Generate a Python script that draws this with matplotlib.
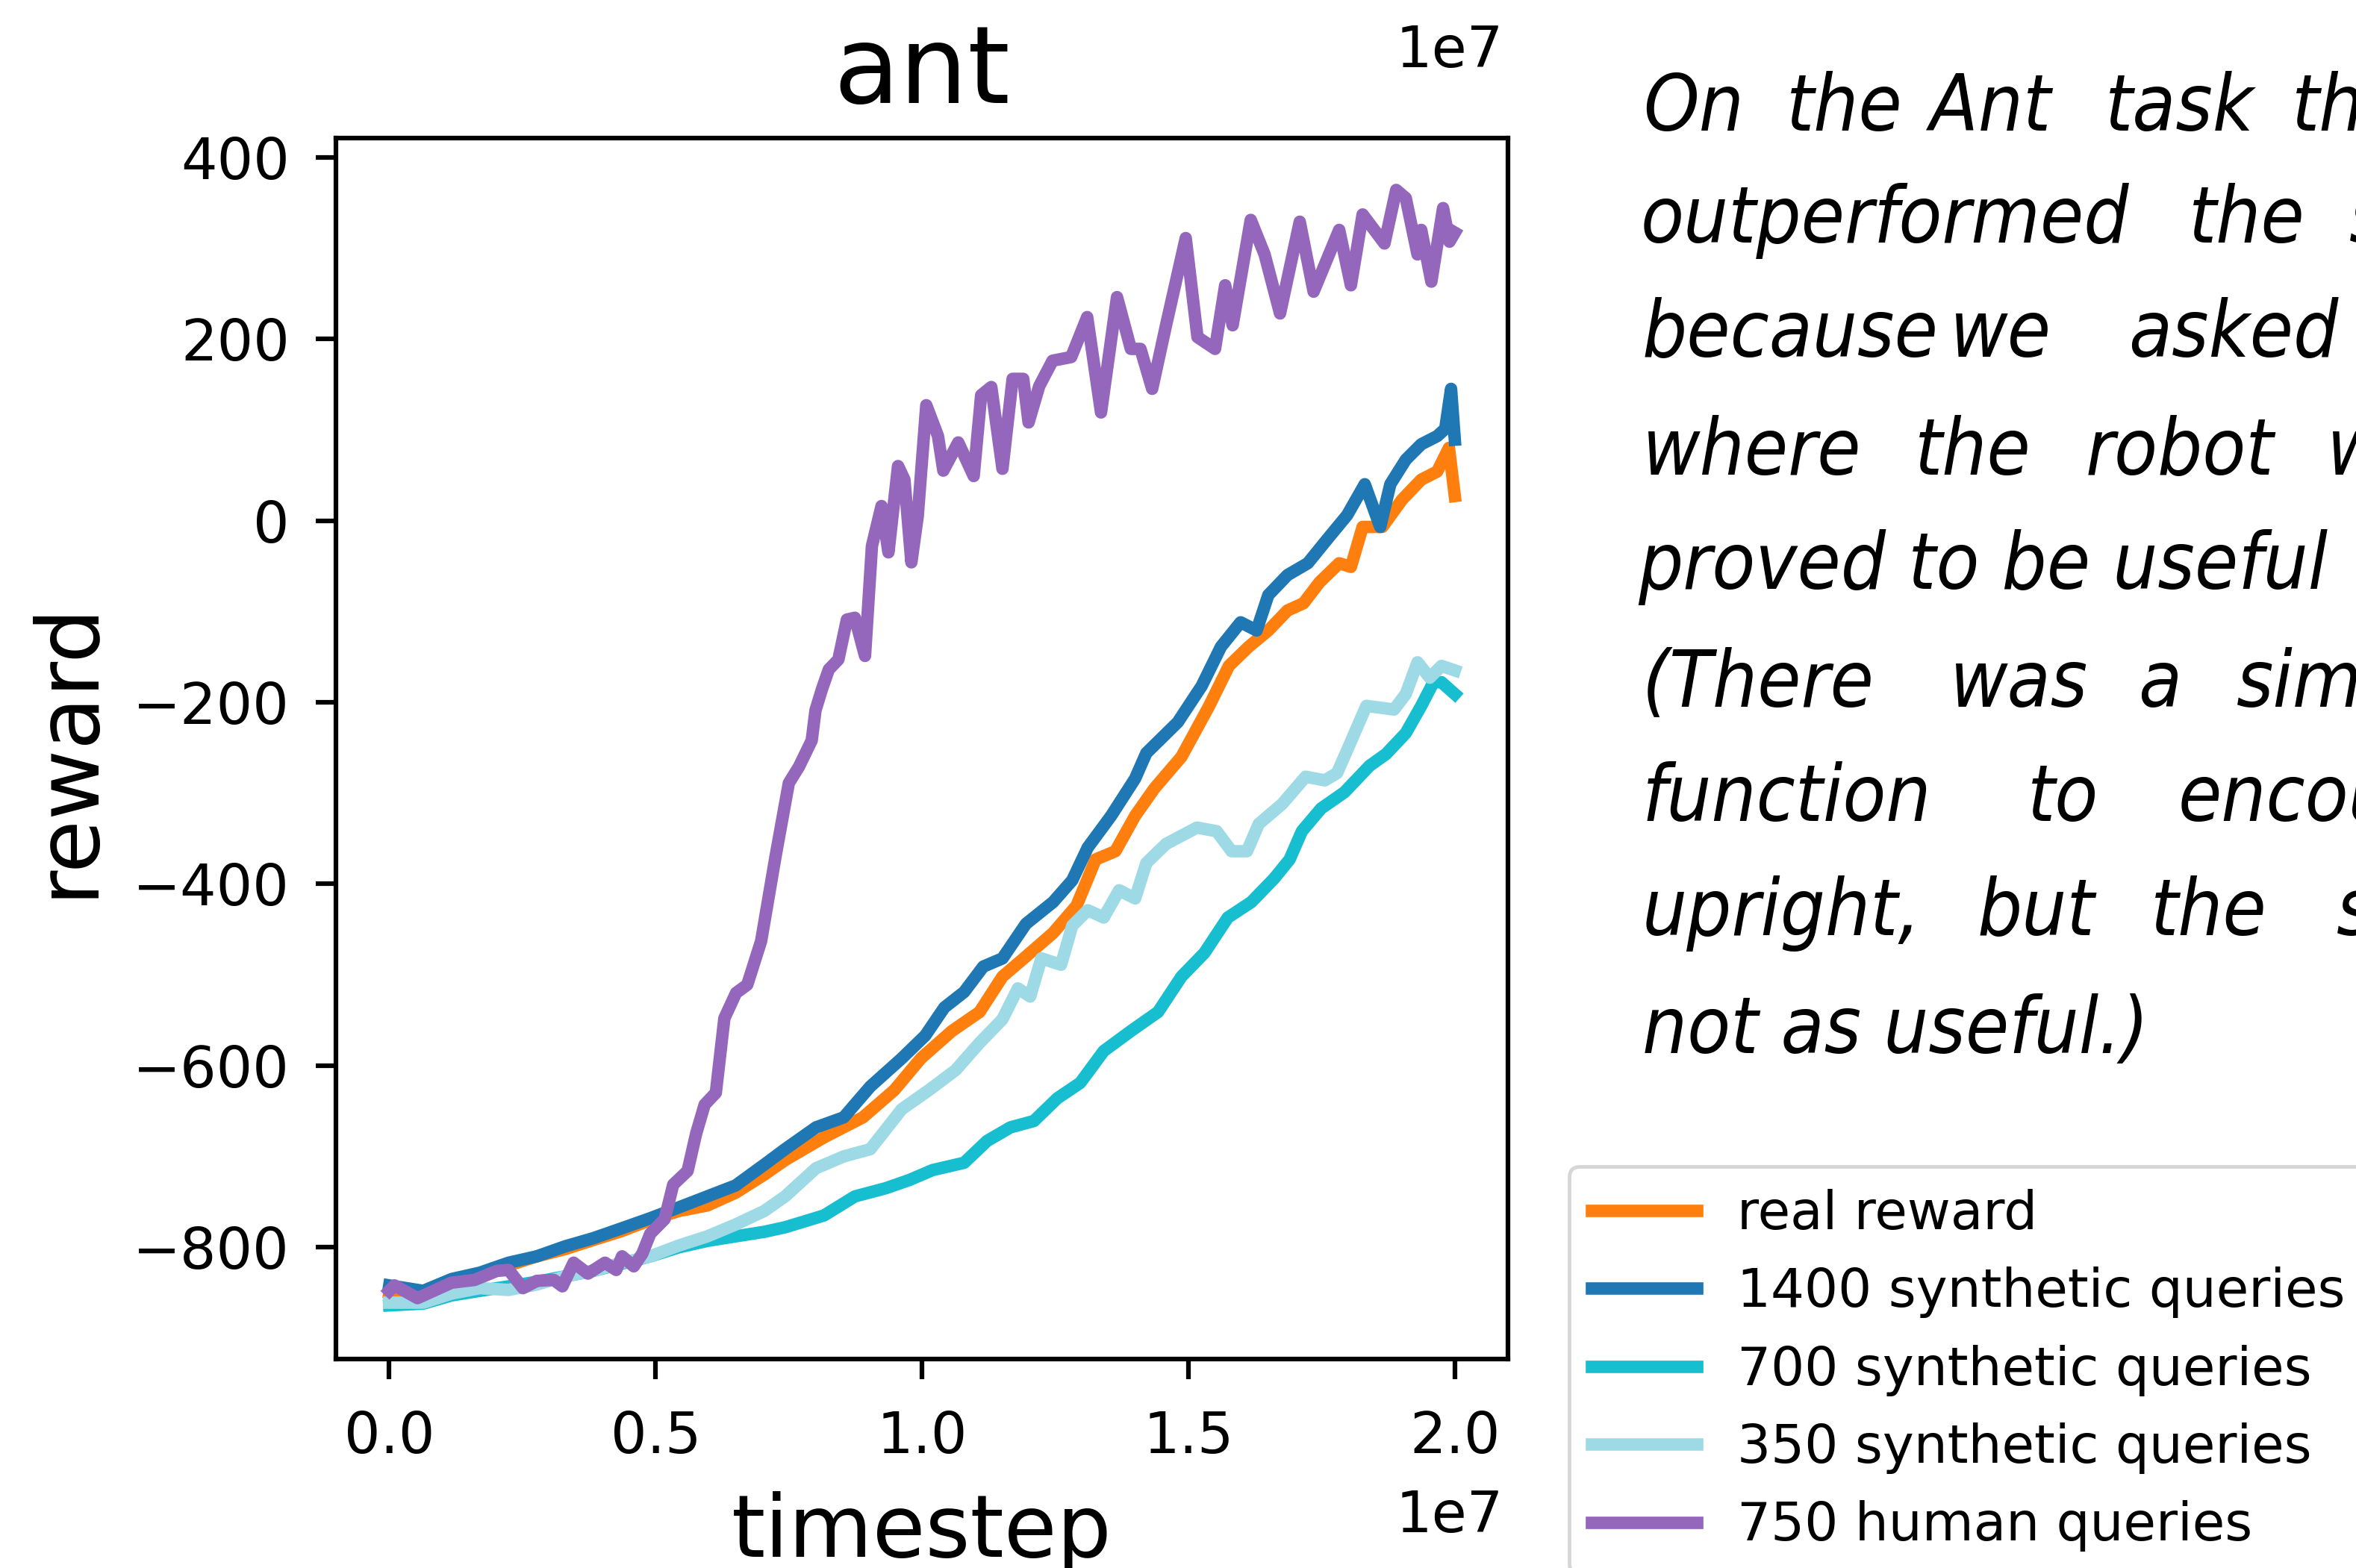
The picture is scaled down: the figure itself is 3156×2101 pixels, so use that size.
import matplotlib.pyplot as plt

# timestep (x 1e7) and mean reward for each run
real_t = [0.0, 0.064, 0.117, 0.17, 0.224, 0.277, 0.33, 0.383, 0.437, 0.49, 0.544, 0.597, 0.65, 0.704,
          0.743, 0.816, 0.889, 0.948, 0.998, 1.056, 1.108, 1.151, 1.195, 1.246, 1.29, 1.326, 1.363, 1.40,
          1.436, 1.487, 1.539, 1.576, 1.613, 1.65, 1.686, 1.716, 1.746, 1.783, 1.805, 1.827, 1.864, 1.901,
          1.937, 1.967, 1.989, 2.0]
real_r = [-850, -855, -838, -830, -820, -810, -802, -792, -782, -770, -760, -754, -740, -720,
          -704, -679, -657, -627, -592, -562, -541, -502, -480, -454, -424, -373, -364, -325,
          -295, -260, -204, -160, -139, -121, -99, -91, -68, -47, -51, -7, -7, 23,
          45, 54, 80, 27]

syn1400_t = [0.0, 0.064, 0.117, 0.17, 0.224, 0.277, 0.33, 0.383, 0.437, 0.49, 0.544, 0.597, 0.65, 0.704,
             0.743, 0.801, 0.853, 0.903, 0.962, 1.006, 1.042, 1.079, 1.115, 1.151, 1.195, 1.246, 1.282,
             1.311, 1.355, 1.40, 1.421, 1.48, 1.525, 1.561, 1.598, 1.628, 1.65, 1.686, 1.724, 1.76, 1.798,
             1.831, 1.86, 1.879, 1.908, 1.937, 1.967, 1.982, 1.993, 2.0]
syn1400_r = [-842, -848, -835, -828, -817, -810, -799, -790, -779, -768, -756, -744, -732, -709,
             -692, -668, -657, -623, -592, -567, -536, -519, -491, -482, -444, -420, -396,
             -360, -325, -284, -256, -222, -182, -139, -112, -121, -82, -60, -47, -21, 6,
             40, -7, 40, 67, 84, 93, 101, 145, 89]

syn700_t = [0.0, 0.064, 0.117, 0.17, 0.224, 0.277, 0.33, 0.383, 0.437, 0.49, 0.544, 0.597, 0.65, 0.704,
            0.743, 0.816, 0.874, 0.932, 0.976, 1.02, 1.079, 1.122, 1.166, 1.21, 1.254, 1.297, 1.341,
            1.392, 1.443, 1.487, 1.53, 1.574, 1.618, 1.661, 1.69, 1.713, 1.749, 1.793, 1.84, 1.871,
            1.908, 1.937, 1.96, 1.975, 2.0]
syn700_r = [-864, -862, -853, -848, -843, -838, -832, -826, -818, -810, -800, -793, -788, -783,
            -778, -765, -744, -735, -726, -715, -707, -683, -668, -661, -636, -619, -584,
            -562, -541, -502, -476, -437, -420, -394, -373, -342, -317, -299, -270, -257,
            -234, -204, -178, -178, -191]

syn350_t = [0.0, 0.064, 0.117, 0.17, 0.224, 0.277, 0.33, 0.383, 0.437, 0.49, 0.544, 0.597, 0.65, 0.704,
            0.743, 0.801, 0.853, 0.903, 0.962, 1.013, 1.063, 1.108, 1.151, 1.18, 1.203, 1.224, 1.261,
            1.282, 1.311, 1.341, 1.37, 1.40, 1.421, 1.458, 1.516, 1.553, 1.581, 1.61, 1.632, 1.676,
            1.72, 1.756, 1.779, 1.80, 1.834, 1.886, 1.908, 1.93, 1.953, 1.975, 2.0]
syn350_r = [-861, -861, -851, -845, -847, -841, -832, -826, -817, -810, -798, -788, -775, -760,
            -744, -713, -700, -692, -648, -627, -605, -575, -549, -515, -524, -482, -489,
            -446, -429, -437, -407, -416, -377, -356, -338, -342, -364, -364, -334, -312,
            -282, -286, -278, -250, -204, -208, -191, -156, -173, -160, -165]

human750_t = [0.0, 0.010, 0.053, 0.117, 0.160, 0.202, 0.224, 0.251, 0.277, 0.309, 0.325, 0.346, 0.373,
              0.405, 0.426, 0.437, 0.459, 0.475, 0.49, 0.517, 0.533, 0.56, 0.576, 0.592, 0.613, 0.629,
              0.651, 0.672, 0.698, 0.725, 0.75, 0.769, 0.793, 0.80, 0.812, 0.825, 0.843, 0.859, 0.874,
              0.893, 0.906, 0.924, 0.937, 0.955, 0.967, 0.98, 0.992, 1.008, 1.03, 1.04, 1.068, 1.097,
              1.111, 1.13, 1.151, 1.17, 1.19, 1.20, 1.22, 1.245, 1.28, 1.31, 1.336, 1.366, 1.392,
              1.41, 1.432, 1.458, 1.495, 1.517, 1.55, 1.569, 1.583, 1.617, 1.643, 1.672, 1.709, 1.735,
              1.783, 1.805, 1.827, 1.868, 1.89, 1.908, 1.93, 1.937, 1.956, 1.978, 1.99, 2.0]
human750_r = [-848, -842, -856, -839, -836, -826, -825, -845, -837, -836, -843, -817, -829,
              -817, -825, -810, -821, -807, -785, -769, -731, -716, -675, -643, -630, -548,
              -520, -511, -463, -370, -289, -271, -242, -209, -186, -164, -153, -109, -107,
              -149, -28, 16, -35, 60, 45, -46, 5, 127, 93, 55, 86, 49,
              138, 147, 57, 156, 156, 108, 148, 176, 180, 224, 119, 246, 189,
              189, 145, 215, 311, 202, 189, 259, 215, 331, 293, 228, 329, 252,
              320, 259, 337, 305, 364, 355, 293, 320, 263, 344, 307, 317]

labels = ['real reward', '1400 synthetic queries', '700 synthetic queries',
          '350 synthetic queries', '750 human queries']
colors = ['#ff7f0e', '#1f77b4', '#17becf', '#9edae5', '#9467bd']

S = 5.6  # small figure scaled up
plt.rcParams.update({
    'font.family': 'DejaVu Sans',
    'axes.linewidth': 0.8 * S,
    'xtick.major.size': 3.5 * S,
    'ytick.major.size': 3.5 * S,
    'xtick.major.width': 0.8 * S,
    'ytick.major.width': 0.8 * S,
    'xtick.major.pad': 5.2 * S,
    'ytick.major.pad': 4.5 * S,
    'xtick.labelsize': 55,
    'ytick.labelsize': 55,
})

fig = plt.figure(figsize=(31.56, 21.01), dpi=100)
ax = fig.add_axes([0.1426, 0.1333, 0.4975, 0.7786])

runs = [(real_t, real_r), (syn1400_t, syn1400_r), (syn700_t, syn700_r),
        (syn350_t, syn350_r), (human750_t, human750_r)]
for (t, r), lab, c in zip(runs, labels, colors):
    ax.plot([v * 1e7 for v in t], r, color=c, lw=12, label=lab)

ax.set_xlim(-0.1e7, 2.1e7)
ax.set_ylim(-923, 421)
ax.set_xticks([0, 0.5e7, 1.0e7, 1.5e7, 2.0e7])
ax.set_yticks([-800, -600, -400, -200, 0, 200, 400])
ax.xaxis.get_offset_text().set_visible(False)
ax.set_title('ant', fontsize=104, pad=6 * S)
ax.set_xlabel('timestep', fontsize=83, labelpad=4.5 * S)
ax.set_ylabel('reward', fontsize=83, labelpad=4 * S)

# axis multipliers
fig.text(2014 / 3156, 1 - 90 / 2101, '1e7', fontsize=55, ha='right', va='baseline')
fig.text(2014 / 3156, 1 - 2053 / 2101, '1e7', fontsize=55, ha='right', va='baseline')

handles, _ = ax.get_legend_handles_labels()
fig.legend(handles, labels, loc='upper left', bbox_to_anchor=(2102 / 3156, 1 - 1563 / 2101),
           fontsize=51, labelspacing=0.5, borderpad=0.42, borderaxespad=0,
           handlelength=2.0, handletextpad=0.75, frameon=True, edgecolor='0.8')
fig.legends[0].get_frame().set_linewidth(3.5)

# justified paragraph beside the plot, one word at a time
para = [
    (175, [(2201, 'On'), (2393, 'the'), (2585, 'Ant'), (2820, 'task'), (3070, 'the')]),
    (325, [(2198, 'outperformed'), (2932, 'the'), (3147, 'synthetic')]),
    (478, [(2200, 'because'), (2612, 'we'), (2851, 'asked')]),
    (636, [(2200, 'where'), (2565, 'the'), (2794, 'robot'), (3117, 'was')]),
    (789, [(2194, 'proved to be useful')]),
    (947, [(2200, '(There'), (2612, 'was'), (2864, 'a'), (2996, 'similar')]),
    (1100, [(2200, 'function'), (2716, 'to'), (2918, 'encourage')]),
    (1253, [(2200, 'upright,'), (2649, 'but'), (2881, 'the'), (3130, 'simulated')]),
    (1411, [(2200, 'not as useful.)')]),
]
for y, words in para:
    for x, w in words:
        fig.text(x / 3156, 1 - y / 2101, w, fontsize=76, style='oblique',
                 family='DejaVu Sans', fontstretch='condensed', ha='left', va='baseline')

fig.savefig('out.png', dpi=100, facecolor='white')
